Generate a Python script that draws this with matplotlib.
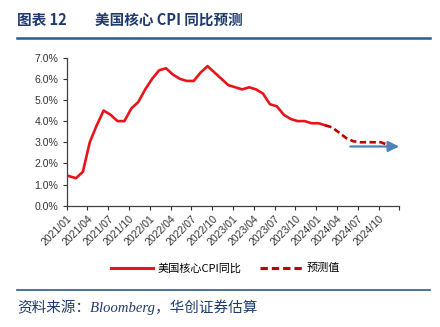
import matplotlib
matplotlib.use("Agg")
import matplotlib.pyplot as plt
from matplotlib.lines import Line2D

plt.rcParams["font.family"] = ["Liberation Sans", "Noto Sans CJK SC", "DejaVu Sans"]

# monthly core CPI yoy (%), 2021/01 .. 2024/02 actual
actual = [1.4, 1.3, 1.6, 3.0, 3.8, 4.5, 4.3, 4.0, 4.0, 4.6, 4.9, 5.5,
          6.0, 6.4, 6.5, 6.2, 6.0, 5.9, 5.9, 6.3, 6.6, 6.3, 6.0, 5.7,
          5.6, 5.5, 5.6, 5.5, 5.3, 4.8, 4.7, 4.3, 4.1, 4.0, 4.0, 3.9,
          3.9, 3.8]
# forecast path 2024/02 .. 2024/11 (starts at last actual)
forecast = [3.8, 3.7, 3.45, 3.2, 3.05, 3.0, 3.0, 3.0, 3.0, 2.88]
forecast_start = len(actual) - 1
tick_labels = ["2021/01", "2021/04", "2021/07", "2021/10", "2022/01", "2022/04",
               "2022/07", "2022/10", "2023/01", "2023/04", "2023/07", "2023/10",
               "2024/01", "2024/04", "2024/07", "2024/10"]
arrow_from = (40.6, 2.8)
arrow_to = (47.65, 2.8)

NAVY = "#1f3a6e"
RED = "#e8141b"
DARKRED = "#c00000"

fig = plt.figure(figsize=(4.4, 3.27), dpi=100)
ax = fig.add_axes([0.1516, 0.371, 0.7559, 0.4526])

x_act = list(range(len(actual)))
x_fc = list(range(forecast_start, forecast_start + len(forecast)))
ax.plot(x_act, actual, color=RED, lw=1.9, solid_joinstyle="round")
ax.plot(x_fc, forecast, color=DARKRED, lw=1.9, dashes=(2.4, 1.3))

ax.annotate("", xy=arrow_to, xytext=arrow_from,
            arrowprops=dict(arrowstyle="-|>,head_length=0.65,head_width=0.32",
                            color="#4f81bd", lw=1.6, shrinkA=0, shrinkB=0))

ax.set_ylim(0, 7)
ax.set_yticks([i for i in range(8)])
ax.set_yticklabels([f"{i:.1f}%" for i in range(8)])
off = -0.33
ax.set_xlim(off, 48 + off)
ax.set_xticks([3 * k + off for k in range(17)])
ax.set_xticklabels(tick_labels + [""], rotation=45, ha="right",
                   rotation_mode="anchor")
ax.tick_params(axis="both", labelsize=7.6, colors="#333333", length=3,
               width=0.8, direction="out", pad=3)
ax.tick_params(axis="x", pad=3)
for s in ["top", "right"]:
    ax.spines[s].set_visible(False)
for s in ["left", "bottom"]:
    ax.spines[s].set_color("#404040")
    ax.spines[s].set_linewidth(0.9)

handles = [Line2D([], [], color=RED, lw=2.2),
           Line2D([], [], color=DARKRED, lw=2.2, dashes=(2.4, 1.3))]
fig.legend(handles, ["美国核心CPI同比", "预测值"], loc="center",
           bbox_to_anchor=(0.513, 0.18), ncol=2, frameon=False,
           prop={"family": ["Noto Sans CJK SC"], "size": 8},
           handlelength=3.7, handletextpad=0.45, columnspacing=1.7)

title_font = dict(color=NAVY, fontsize=10.5, fontweight="bold", va="center",
                  ha="left", family=["Noto Sans CJK SC", "DejaVu Sans"])
fig.text(0.039, 0.939, "图表 12", **title_font)
fig.text(0.216, 0.939, "美国核心 CPI 同比预测", **title_font)
fig.add_artist(Line2D([0.039, 0.977], [0.884, 0.884], color="#2a5a8c", lw=1.8))
fig.add_artist(Line2D([0.039, 0.977], [0.113, 0.113], color="#2a5a8c", lw=1.2))
fig.text(0.039, 0.062, "资料来源：Bloomberg，华创证券估算", color=NAVY,
         fontsize=10.5, style="italic", va="center", ha="left",
         family=["Liberation Serif", "Noto Sans CJK SC"])

fig.savefig("out.png", dpi=100)
